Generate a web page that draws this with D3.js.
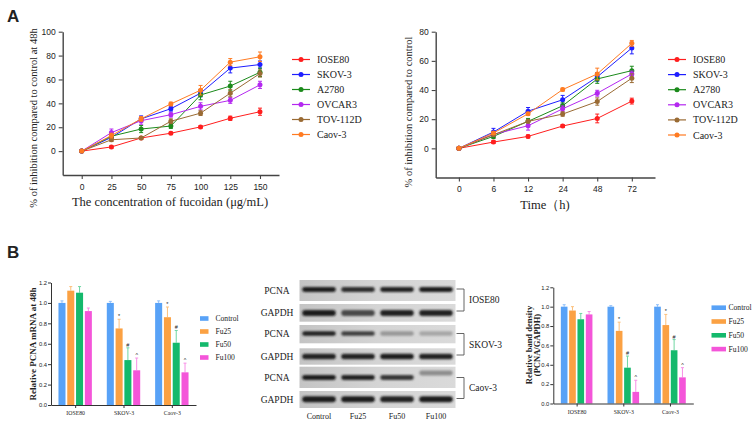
<!DOCTYPE html>
<html><head><meta charset="utf-8">
<script src="https://cdn.jsdelivr.net/npm/d3@7"></script>
<style>
body{margin:0;background:#fff}
svg{display:block}
text{font-family:"Liberation Serif","Times New Roman",serif;fill:#222}
.sans{font-family:"Liberation Sans",Arial,sans-serif}
</style>
</head><body><svg id="c" width="753" height="421"></svg>
<script>
// ---------- DATA ----------
const concentrations = ["0","25","50","75","100","125","150"];
const times = ["0","6","12","24","48","72"];
const cellLines = ["IOSE80","SKOV-3","A2780","OVCAR3","TOV-112D","Caov-3"];
const lineColors = ["#ff1e1e","#1e1eff","#1b8a1b","#b428f0","#9a6b34","#ff7b22"];

// Panel A left: inhibition (%) at 48h vs concentration
const dose_IOSE80 = [0,3.5,11,15,20.3,27.5,33];
const dose_SKOV3  = [0,11.5,27,35.5,48.5,69.5,72.5];
const dose_A2780  = [0,12.5,18.5,21,47,54.5,66];
const dose_OVCAR3 = [0,15.5,25.5,30.5,37.5,42.5,55.5];
const dose_TOV112D= [0,9.5,11,25,31.8,48.5,65];
const dose_Caov3  = [0,13,27,39.5,51,74.5,79];
const doseErr_IOSE80 = [0,1,1.2,1,1,1.8,3];
const doseErr_SKOV3  = [0,2,2.5,2,3,4,3];
const doseErr_A2780  = [0,2,3,2,4,4,3.5];
const doseErr_OVCAR3 = [0,3,3,2,3,2.5,3];
const doseErr_TOV112D= [0,1.5,1,2,2,3,3];
const doseErr_Caov3  = [0,2,2,1.5,4,3,4];

// Panel A right: inhibition (%) vs time
const time_IOSE80 = [0,4.3,8.2,15.3,20.5,32.4];
const time_SKOV3  = [0,11.2,25.5,33.3,49,68.8];
const time_A2780  = [0,8.2,18.5,29.2,47.6,53.3];
const time_OVCAR3 = [0,9.6,15.5,27.1,37.8,51];
const time_TOV112D= [0,9.3,18.5,23.5,32.1,48.1];
const time_Caov3  = [0,10.5,23.7,40.3,51,72];
const timeErr_IOSE80 = [0,1,1,1,3,2];
const timeErr_SKOV3  = [0,2.5,2.5,3,3,4];
const timeErr_A2780  = [0,1.5,2,2,3,3];
const timeErr_OVCAR3 = [0,1.5,3,2,2,2];
const timeErr_TOV112D= [0,1,1,1.5,2.5,3];
const timeErr_Caov3  = [0,1,1,1,4,2];

const yTicksDose = [0,20,40,60,80,100];
const yTicksTime = [0,20,40,60,80];

// Panel B
const barGroups = ["IOSE80","SKOV-3","Caov-3"];
const treatments = ["Control","Fu25","Fu50","Fu100"];
const barColors = ["#58a2f7","#fba143","#14b96c","#f455d9"];
const errColors = ["#8fbff9","#fcc07c","#6fd6a3","#f78fe6"];
const sigMarks = ["","*","#","^"];
const barTicks = [0,0.2,0.4,0.6,0.8,1.0,1.2];

const mrna_Control = [1.0,1.0,1.0];
const mrna_Fu25    = [1.12,0.75,0.86];
const mrna_Fu50    = [1.10,0.44,0.61];
const mrna_Fu100   = [0.92,0.34,0.32];
const mrnaErr_Control = [0.02,0.015,0.02];
const mrnaErr_Fu25    = [0.04,0.09,0.10];
const mrnaErr_Fu50    = [0.06,0.12,0.12];
const mrnaErr_Fu100   = [0.03,0.12,0.09];

const dens_Control = [1.0,1.0,1.0];
const dens_Fu25    = [0.96,0.75,0.81];
const dens_Fu50    = [0.87,0.37,0.55];
const dens_Fu100   = [0.92,0.12,0.27];
const densErr_Control = [0.02,0.01,0.02];
const densErr_Fu25    = [0.04,0.09,0.11];
const densErr_Fu50    = [0.06,0.12,0.11];
const densErr_Fu100   = [0.03,0.12,0.10];

// Western blot (relative band darkness per lane)
const blotRowLabels = ["PCNA","GAPDH","PCNA","GAPDH","PCNA","GAPDH"];
const blotCellLabels = ["IOSE80","SKOV-3","Caov-3"];
const band_PCNA_IOSE80  = [0.95,0.85,0.9,0.95];
const band_GAPDH_IOSE80 = [0.95,0.7,0.9,0.92];
const band_PCNA_SKOV3   = [0.9,0.75,0.3,0.22];
const band_GAPDH_SKOV3  = [0.92,0.92,0.95,0.92];
const band_PCNA_Caov3   = [0.95,0.9,0.8,0.35];
const band_GAPDH_Caov3  = [0.95,0.95,0.92,0.95];

// ---------- DRAW ----------
const svg = d3.select("#c");
const defs = svg.append("defs");
defs.append("filter").attr("id","blur").attr("x","-20%").attr("y","-100%").attr("width","140%").attr("height","300%")
  .append("feGaussianBlur").attr("stdDeviation","0.9");
const bg = defs.append("linearGradient").attr("id","blotbg");
bg.append("stop").attr("offset","0").attr("stop-color","#c4c4c4");
bg.append("stop").attr("offset","0.5").attr("stop-color","#d4d4d4");
bg.append("stop").attr("offset","1").attr("stop-color","#dadada");

svg.append("text").attr("x",7).attr("y",22).attr("class","sans").style("font-weight","bold").style("font-size","17px").attr("fill","#000").text("A");
svg.append("text").attr("x",7).attr("y",258).attr("class","sans").style("font-weight","bold").style("font-size","17px").attr("fill","#000").text("B");

function lineChart(o){
  const g = svg.append("g");
  const x = d3.scalePoint().domain(o.cats).range([o.x0,o.x1]).padding(o.pad);
  const y = d3.scaleLinear().domain(o.yDomain).range([o.yB,o.yT]);
  const ax = g.append("g").attr("transform",`translate(0,${o.yB})`)
    .call(d3.axisBottom(x).tickSize(4).tickSizeOuter(0));
  const ay = g.append("g").attr("transform",`translate(${o.x0},0)`)
    .call(d3.axisLeft(y).tickValues(o.yTicks).tickSize(4).tickSizeOuter(0));
  [ax,ay].forEach(a=>{
    a.select(".domain").attr("stroke","#444").attr("stroke-width",1.4);
    a.selectAll(".tick line").attr("stroke","#444").attr("stroke-width",1.1);
    a.selectAll(".tick text").attr("class","sans").style("font-size","8.5px").attr("fill","#333");
  });
  ax.selectAll(".tick text").attr("dy","0.9em");
  o.series.forEach((s,i)=>{
    const col = lineColors[i];
    const pts = s.map((v,j)=>({c:o.cats[j],v,e:o.errs[i][j]}));
    g.append("path").datum(pts).attr("fill","none").attr("stroke",col).attr("stroke-width",1)
      .attr("d",d3.line().x(d=>x(d.c)).y(d=>y(d.v)));
    const eg = g.append("g").attr("stroke",col).attr("stroke-width",1);
    pts.filter(d=>d.e>0).forEach(d=>{
      const cx=x(d.c);
      eg.append("line").attr("x1",cx).attr("x2",cx).attr("y1",y(d.v-d.e)).attr("y2",y(d.v+d.e));
      eg.append("line").attr("x1",cx-2).attr("x2",cx+2).attr("y1",y(d.v-d.e)).attr("y2",y(d.v-d.e));
      eg.append("line").attr("x1",cx-2).attr("x2",cx+2).attr("y1",y(d.v+d.e)).attr("y2",y(d.v+d.e));
    });
    g.selectAll(null).data(pts).enter().append("circle").attr("cx",d=>x(d.c)).attr("cy",d=>y(d.v)).attr("r",2.5).attr("fill",col);
    // legend
    const ly = o.legY + i*o.legDy;
    g.append("line").attr("x1",o.legX).attr("x2",o.legX+18).attr("y1",ly).attr("y2",ly).attr("stroke",col).attr("stroke-width",1.2);
    g.append("circle").attr("cx",o.legX+9).attr("cy",ly).attr("r",2.5).attr("fill",col);
    g.append("text").attr("x",o.legX+25).attr("y",ly).attr("dy","0.35em").style("font-size","10px").text(cellLines[i]);
  });
  g.append("text").attr("transform",`translate(${o.ylabX},${o.ylabY}) rotate(-90)`).attr("text-anchor","middle")
    .attr("dy","0.35em").style("font-size","10.5px").text(o.ylab);
  g.append("text").attr("x",o.xlabX).attr("y",o.xlabY).attr("text-anchor","middle").attr("dy","0.35em")
    .style("font-size",o.xlabSize).text(o.xlab);
}

lineChart({cats:concentrations,x0:62.7,x1:279,pad:0.64,yDomain:[-20,100],yB:175,yT:31.7,yTicks:yTicksDose,
  series:[dose_IOSE80,dose_SKOV3,dose_A2780,dose_OVCAR3,dose_TOV112D,dose_Caov3],
  errs:[doseErr_IOSE80,doseErr_SKOV3,doseErr_A2780,doseErr_OVCAR3,doseErr_TOV112D,doseErr_Caov3],
  legX:292,legY:59.5,legDy:15,ylab:"% of inhibition compared to control at 48h",ylabX:33,ylabY:118,
  xlab:"The concentration of fucoidan (\u03bcg/mL)",xlabX:170,xlabY:202,xlabSize:"12.5px"});

lineChart({cats:times,x0:435.7,x1:655,pad:0.67,yDomain:[-20,80],yB:177.5,yT:31.7,yTicks:yTicksTime,
  series:[time_IOSE80,time_SKOV3,time_A2780,time_OVCAR3,time_TOV112D,time_Caov3],
  errs:[timeErr_IOSE80,timeErr_SKOV3,timeErr_A2780,timeErr_OVCAR3,timeErr_TOV112D,timeErr_Caov3],
  legX:668,legY:59.5,legDy:15.1,ylab:"% of inhibition compared to control",ylabX:408,ylabY:112,
  xlab:"Time\uff08h)",xlabX:545,xlabY:205,xlabSize:"12.5px"});

function barChart(o){
  const g = svg.append("g");
  const x = d3.scalePoint().domain(barGroups).range([o.x0,o.x1]).padding(0.5);
  const xi = d3.scaleBand().domain(treatments).range([-o.gw/2,o.gw/2]).paddingInner(0.2);
  const y = d3.scaleLinear().domain([0,1.2]).range([o.yB,o.yT]);
  o.vals.forEach((arr,t)=>{
    arr.forEach((v,gi)=>{
      const bx = x(barGroups[gi])+xi(treatments[t]);
      const cx = bx+xi.bandwidth()/2;
      const e = o.errs[t][gi];
      g.append("line").attr("x1",cx).attr("x2",cx).attr("y1",y(v)).attr("y2",y(v+e)).attr("stroke",errColors[t]).attr("stroke-width",1);
      g.append("line").attr("x1",cx-1.5).attr("x2",cx+1.5).attr("y1",y(v+e)).attr("y2",y(v+e)).attr("stroke",errColors[t]).attr("stroke-width",1);
      g.append("rect").attr("x",bx).attr("y",y(v)).attr("width",xi.bandwidth()).attr("height",y(0)-y(v)).attr("fill",barColors[t]);
      if(gi>0 && sigMarks[t]){
        g.append("text").attr("x",cx).attr("y",y(v+e)-1).attr("text-anchor","middle").attr("class","sans")
          .style("font-size","5.5px").attr("fill","#333").text(sigMarks[t]);
      }
    });
  });
  const ax = g.append("g").attr("transform",`translate(0,${o.yB})`).call(d3.axisBottom(x).tickSize(3).tickSizeOuter(0));
  const ay = g.append("g").attr("transform",`translate(${o.x0},0)`).call(d3.axisLeft(y).tickValues(barTicks).tickFormat(d3.format(".1f")).tickSize(3).tickSizeOuter(0));
  [ax,ay].forEach(a=>{
    a.select(".domain").attr("stroke","#333").attr("stroke-width",1);
    a.selectAll(".tick line").attr("stroke","#333");
  });
  ay.selectAll(".tick text").attr("class","sans").style("font-size","5.8px").attr("fill","#333").attr("x",-4);
  ax.selectAll(".tick text").style("font-size","5.8px").attr("fill","#333").attr("dy","0.7em");
  treatments.forEach((t,i)=>{
    const ly = o.legY + i*o.legDy;
    g.append("rect").attr("x",o.legX).attr("y",ly-2.3).attr("width",o.legW).attr("height",4.6).attr("fill",barColors[i]);
    g.append("text").attr("x",o.legX+o.legW+o.legGap).attr("y",ly).attr("dy","0.35em").style("font-size","7.6px").text(t);
  });
  o.ylab.forEach((l,k)=>{
    g.append("text").attr("transform",`translate(${o.ylabX[k]},${o.ylabY}) rotate(-90)`).attr("text-anchor","middle")
      .attr("dy","0.35em").style("font-size",o.ylabSize).style("font-weight","bold").text(l);
  });
}

barChart({x0:51,x1:196,gw:33.4,yB:405,yT:282.5,
  vals:[mrna_Control,mrna_Fu25,mrna_Fu50,mrna_Fu100],
  errs:[mrnaErr_Control,mrnaErr_Fu25,mrnaErr_Fu50,mrnaErr_Fu100],
  legX:200,legW:8.5,legGap:7,legY:318.5,legDy:13,ylab:["Relative PCNA mRNA at 48h"],ylabX:[33],ylabY:344,ylabSize:"9px"});

barChart({x0:553.3,x1:693.3,gw:31.6,yB:403.5,yT:287.3,
  vals:[dens_Control,dens_Fu25,dens_Fu50,dens_Fu100],
  errs:[densErr_Control,densErr_Fu25,densErr_Fu50,densErr_Fu100],
  legX:711.5,legW:14.5,legGap:2.5,legY:307.7,legDy:13.8,ylab:["Relative band density","(PCNA/GAPDH)"],ylabX:[529,537.5],ylabY:345,ylabSize:"8.5px"});

// Western blot
(function(){
  const g = svg.append("g");
  const lanes = treatments;
  const xl = d3.scaleBand().domain(lanes).range([299.5,455.5]).paddingInner(0.14).paddingOuter(0.07);
  const rows = [
    {top:280,bot:301,band:289.5,h:4.8,vals:band_PCNA_IOSE80},
    {top:304,bot:321.7,band:313,h:5.8,vals:band_GAPDH_IOSE80},
    {top:325,bot:343.3,band:333.5,h:4.6,vals:band_PCNA_SKOV3},
    {top:348.3,bot:364.7,band:356.5,h:5.6,vals:band_GAPDH_SKOV3},
    {top:366.7,bot:388,band:377.5,h:4.8,vals:band_PCNA_Caov3},
    {top:391,bot:408,band:399.2,h:6,vals:band_GAPDH_Caov3}
  ];
  rows.forEach((r,ri)=>{
    g.append("rect").attr("x",299.5).attr("y",r.top).attr("width",156).attr("height",r.bot-r.top).attr("fill","url(#blotbg)");
    r.vals.forEach((v,li)=>{
      const shift = (ri===4 && li===3) ? -4.5 : 0;
      const c = d3.interpolateRgb("#d0d0d0","#111")(v);
      g.append("rect").attr("x",xl(lanes[li])).attr("y",r.band+shift-r.h/2).attr("width",xl.bandwidth())
        .attr("height",r.h).attr("rx",r.h/2).attr("fill",c).attr("filter","url(#blur)");
    });
    g.append("text").attr("x",277).attr("y",(r.top+r.bot)/2).attr("text-anchor","middle").attr("dy","0.35em")
      .style("font-size","9.5px").text(blotRowLabels[ri]);
  });
  // brackets
  const br = [[289,311],[333.5,355],[377.5,398.5]];
  br.forEach((b,i)=>{
    g.append("path").attr("d",`M456.5,${b[0]}H464V${b[1]}H456.5`).attr("fill","none").attr("stroke","#555").attr("stroke-width",0.9);
    g.append("text").attr("x",469).attr("y",(b[0]+b[1])/2).attr("dy","0.35em").style("font-size","9.5px").text(blotCellLabels[i]);
  });
  lanes.forEach(l=>{
    g.append("text").attr("x",xl(l)+xl.bandwidth()/2).attr("y",416).attr("text-anchor","middle").attr("dy","0.35em")
      .style("font-size","8px").text(l);
  });
})();
</script></body></html>
